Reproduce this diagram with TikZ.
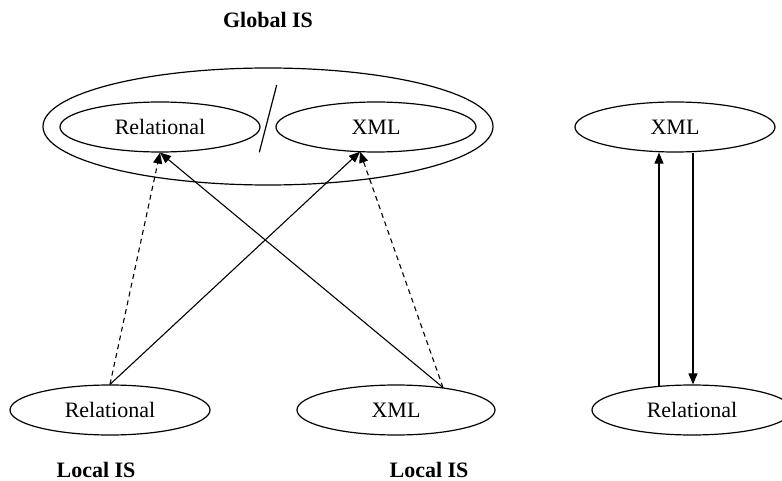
\documentclass[tikz,border=0pt]{standalone}
\usepackage{fontspec}
\setmainfont{Liberation Serif}
\usetikzlibrary{shapes.geometric,arrows.meta}
\begin{document}
\begin{tikzpicture}[x=1pt,y=-1pt,
  ell/.style={draw,ellipse,line width=1.2pt,inner sep=0pt,minimum width=200pt,minimum height=50pt,font=\fontsize{22}{26}\selectfont},
  lbl/.style={anchor=base,inner sep=0pt,font=\fontsize{22}{26}\selectfont\bfseries},
  arr/.style={line width=1.1pt,-{Triangle[length=11pt,width=9pt]}},
  dsh/.style={arr,dash pattern=on 5pt off 4pt}]
\useasboundingbox (0,0) rectangle (782,481);
% global IS
\node[lbl] (gis) at (268,28) {Global IS};
\node[ell,minimum width=450pt,minimum height=117pt] (outer) at (268,126.5) {};
\node[ell] (grel) at (160,127) {Relational};
\node[ell] (gxml) at (376,127) {XML};
\draw[line width=1.2pt] (276.7,85) -- (259.3,152.3);
% local IS
\node[ell] (lrel) at (110,410) {Relational};
\node[ell,minimum width=198pt] (lxml) at (396,410) {XML};
\node[lbl] (lis1) at (96,477) {Local IS};
\node[lbl] (lis2) at (429,477) {Local IS};
% endpoints
\coordinate (gxmlin) at (360,151.7);
\coordinate (lxmlout) at (443,387.5);
\draw[dsh] (lrel.north) -- (grel.south);
\draw[arr] (lrel.north) -- (gxmlin);
\draw[dsh] (lxmlout) -- (gxmlin);
\draw[arr] (lxmlout) -- (grel.south);
% right pair
\node[ell] (rxml) at (675,127) {XML};
\node[ell] (rrel) at (692,410) {Relational};
\coordinate (upx) at (659,0);
\coordinate (dnx) at (693,0);
\draw[arr] (rrel.north -| upx) ++(0,1.4) -- (rxml.south -| upx);
\draw[arr] (rxml.south -| dnx) -- (rrel.north -| dnx);
\end{tikzpicture}
\end{document}
